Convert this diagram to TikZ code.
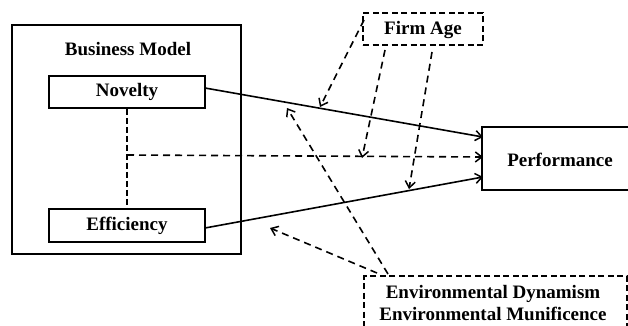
\documentclass[tikz,border=0pt]{standalone}
\usepackage{fontspec}
\setmainfont{Liberation Serif}
\usetikzlibrary{arrows.meta}
\begin{document}
\begin{tikzpicture}[x=1pt,y=-1pt,
  lbl/.style={font=\fontsize{19}{21.5}\selectfont\bfseries, inner sep=0pt},
  sbox/.style={draw, line width=1.6pt, minimum height=32pt, inner sep=0pt},
  dbox/.style={draw, line width=1.6pt, dash pattern=on 6pt off 3.5pt, inner sep=0pt},
  arr/.style={line width=1.6pt, -{Straight Barb[length=6.5pt,width=10pt,line width=1.5pt]}},
  darr/.style={arr, dash pattern=on 7pt off 5pt},
  dl/.style={line width=1.6pt, dash pattern=on 6pt off 3pt}]
\useasboundingbox (0,0) rectangle (628,326);
\node[draw, line width=1.6pt, minimum width=229pt, minimum height=229pt, inner sep=0pt] (outer) at (126.5,139.5) {};
\node[lbl] (bm) at (128,49) {Business Model};
\node[sbox, minimum width=156pt, lbl] (nov) at (127,92) {Novelty};
\node[sbox, minimum width=156pt, minimum height=33pt, lbl] (eff) at (127,225.5) {Efficiency};
\node[draw, line width=1.6pt, minimum width=160pt, minimum height=63pt, inner sep=0pt] (perf) at (562,158.5) {};
\node[lbl] (perft) at (560,160) {Performance};
\node[dbox, minimum width=120pt, minimum height=32pt] (firm) at (423,29) {};
\node[lbl] (firmt) at (423,30) {Firm Age};
\node[dbox, minimum width=263pt, minimum height=56pt] (env) at (495.5,304) {};
\node[lbl, align=center] (envt) at (493,303) {Environmental Dynamism\\Environmental Munificence};
% junction
\coordinate (j) at (127,155);
\draw[dl] (nov.south) -- (eff.north);
\coordinate (pin1) at (483,137);
\coordinate (pin2) at (483,157);
\coordinate (pin3) at (483,177);
\draw[arr] (205,88) -- (pin1);
\draw[darr] (j) -- (pin2);
\draw[arr] (205,228) -- (pin3);
% firm age arrows
\coordinate (f1s) at (364,20);
\coordinate (f1e) at (320,107);
\coordinate (f2s) at (385,50);
\coordinate (f2e) at (362,158);
\coordinate (f3s) at (432,52);
\coordinate (f3e) at (409,189);
\draw[darr] (f1s) -- (f1e);
\draw[darr] (f2s) -- (f2e);
\draw[darr] (f3s) -- (f3e);
% environment arrows
\coordinate (e1s) at (388,274);
\coordinate (e1e) at (287,108);
\coordinate (e2s) at (377,273);
\coordinate (e2e) at (270,228);
\draw[darr] (e1s) -- (e1e);
\draw[darr] (e2s) -- (e2e);
\end{tikzpicture}
\end{document}
